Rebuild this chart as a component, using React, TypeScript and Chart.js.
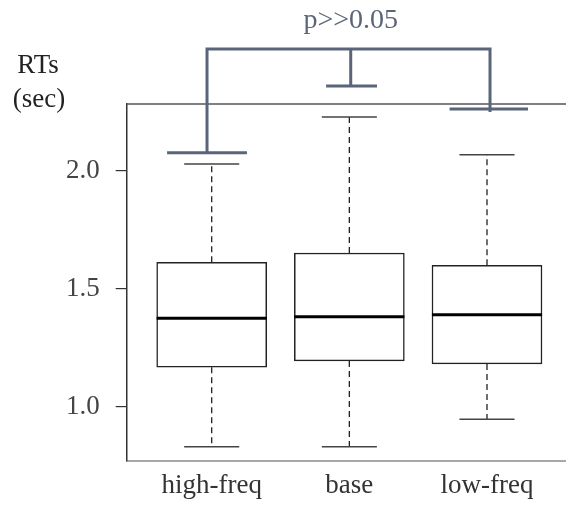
import React, { useEffect, useRef } from "react";
import { Chart, registerables } from "chart.js";

Chart.register(...registerables);

// ---- data ----
const categories = ["high-freq", "base", "low-freq"];
const whiskerLow = [0.83, 0.83, 0.947];
const q1 = [1.167, 1.194, 1.181];
const medians = [1.375, 1.381, 1.39];
const q3 = [1.612, 1.651, 1.599];
const whiskerHigh = [2.028, 2.228, 2.068];
const yTicks = [1.0, 1.5, 2.0];
// significance bracket (y values)
const bracketCaps = [2.076, 2.359, 2.261];
const bracketTop = 2.516;
const pLabel = "p>>0.05";
const yTitle = ["RTs", "(sec)"];

const FONT = "'Liberation Serif', 'Times New Roman', serif";
const BRACKET_COLOR = "#5a6579";

const boxPlugin = {
  id: "boxExtras",
  afterDatasetsDraw(chart: any) {
    const { ctx, chartArea } = chart;
    const xs = chart.scales.x;
    const ys = chart.scales.y;
    const unit = xs.getPixelForValue(2) - xs.getPixelForValue(1);
    ctx.save();
    // top frame line
    ctx.strokeStyle = "#555";
    ctx.lineWidth = 1.5;
    ctx.beginPath();
    ctx.moveTo(chartArea.left, ys.getPixelForValue(ys.max));
    ctx.lineTo(chartArea.right, ys.getPixelForValue(ys.max));
    ctx.stroke();

    categories.forEach((_, i) => {
      const cx = xs.getPixelForValue(i + 1);
      const capHalf = unit * 0.2;
      // whiskers (dashed)
      ctx.strokeStyle = "#222";
      ctx.lineWidth = 1.3;
      ctx.setLineDash([6, 4]);
      ctx.beginPath();
      ctx.moveTo(cx, ys.getPixelForValue(q3[i]));
      ctx.lineTo(cx, ys.getPixelForValue(whiskerHigh[i]));
      ctx.moveTo(cx, ys.getPixelForValue(q1[i]));
      ctx.lineTo(cx, ys.getPixelForValue(whiskerLow[i]));
      ctx.stroke();
      ctx.setLineDash([]);
      // caps
      ctx.strokeStyle = "#444";
      ctx.lineWidth = 1.5;
      ctx.beginPath();
      ctx.moveTo(cx - capHalf, ys.getPixelForValue(whiskerHigh[i]));
      ctx.lineTo(cx + capHalf, ys.getPixelForValue(whiskerHigh[i]));
      ctx.moveTo(cx - capHalf, ys.getPixelForValue(whiskerLow[i]));
      ctx.lineTo(cx + capHalf, ys.getPixelForValue(whiskerLow[i]));
      ctx.stroke();
      // median
      const half = unit * 0.4;
      ctx.strokeStyle = "#000";
      ctx.lineWidth = 3;
      ctx.beginPath();
      ctx.moveTo(cx - half, ys.getPixelForValue(medians[i]));
      ctx.lineTo(cx + half, ys.getPixelForValue(medians[i]));
      ctx.stroke();
    });

    // significance bracket
    const bx = [0.966, 2.01, 3.022].map((v) => xs.getPixelForValue(v));
    const capW = [0.29, 0.185, 0.285].map((w) => w * unit);
    const capX = [0.966, 2.016, 3.013].map((v) => xs.getPixelForValue(v));
    const topY = ys.getPixelForValue(bracketTop);
    ctx.strokeStyle = BRACKET_COLOR;
    ctx.lineWidth = 3;
    ctx.lineCap = "butt";
    ctx.beginPath();
    ctx.moveTo(bx[0], ys.getPixelForValue(bracketCaps[0]));
    ctx.lineTo(bx[0], topY);
    ctx.lineTo(bx[2], topY);
    ctx.lineTo(bx[2], ys.getPixelForValue(bracketCaps[2]) + 3);
    ctx.moveTo(bx[1], topY);
    ctx.lineTo(bx[1], ys.getPixelForValue(bracketCaps[1]));
    bracketCaps.forEach((v, i) => {
      const y = ys.getPixelForValue(v);
      ctx.moveTo(capX[i] - capW[i], y);
      ctx.lineTo(capX[i] + capW[i], y);
    });
    ctx.stroke();

    // p label
    ctx.fillStyle = BRACKET_COLOR;
    ctx.font = `28px ${FONT}`;
    ctx.textAlign = "center";
    ctx.textBaseline = "alphabetic";
    ctx.fillText(pLabel, bx[1], topY - 20.5);

    // y axis title
    ctx.fillStyle = "#222";
    ctx.font = `27px ${FONT}`;
    ctx.fillText(yTitle[0], 38, 73);
    ctx.fillText(yTitle[1], 39, 106.5);
    ctx.restore();
  },
};

export default function App() {
  const ref = useRef<HTMLCanvasElement>(null);
  useEffect(() => {
    if (!ref.current) return;
    const chart = new Chart(ref.current, {
      type: "bar",
      data: {
        datasets: [
          {
            data: categories.map((_, i) => ({ x: i + 1, y: [q1[i], q3[i]] })) as any,
            backgroundColor: "#ffffff",
            borderColor: "#222",
            borderWidth: 1.5,
            borderSkipped: false,
            barThickness: 110,
          },
        ],
      },
      options: {
        animation: false,
        responsive: true,
        maintainAspectRatio: false,
        layout: { padding: { top: 104, left: 0, right: 0, bottom: 0 } },
        plugins: { legend: { display: false }, tooltip: { enabled: false } },
        scales: {
          x: {
            type: "linear",
            offset: false,
            min: 0.3825,
            max: 3.574,
            grid: { display: false, drawTicks: false, offset: false },
            border: { display: true, color: "#a8a8a8", width: 2 },
            afterBuildTicks: (s: any) => {
              s.ticks = categories.map((_, i) => ({ value: i + 1 }));
            },
            afterFit: (s: any) => {
              s.height = 47.3;
            },
            ticks: {
              padding: 9,
              color: "#333",
              font: { family: FONT, size: 27 },
              callback: (v: any) => categories[Math.round(Number(v)) - 1] ?? "",
            },
          },
          y: {
            type: "linear",
            min: 0.771,
            max: 2.2826,
            grid: { display: true, drawOnChartArea: false, drawTicks: true, tickLength: 11, color: "#333", lineWidth: 1.2 },
            border: { display: true, color: "#333", width: 1.5 },
            afterBuildTicks: (s: any) => {
              s.ticks = yTicks.map((v) => ({ value: v }));
            },
            afterFit: (s: any) => {
              s.width = 126.7;
            },
            ticks: {
              padding: 16,
              color: "#444",
              font: { family: FONT, size: 27 },
              callback: (v: any) => Number(v).toFixed(1),
            },
          },
        },
      },
      plugins: [boxPlugin],
    });
    return () => chart.destroy();
  }, []);
  return (
    <div style={{ position: "absolute", left: 0, top: 0, width: 566, height: 508 }}>
      <canvas ref={ref} />
    </div>
  );
}
